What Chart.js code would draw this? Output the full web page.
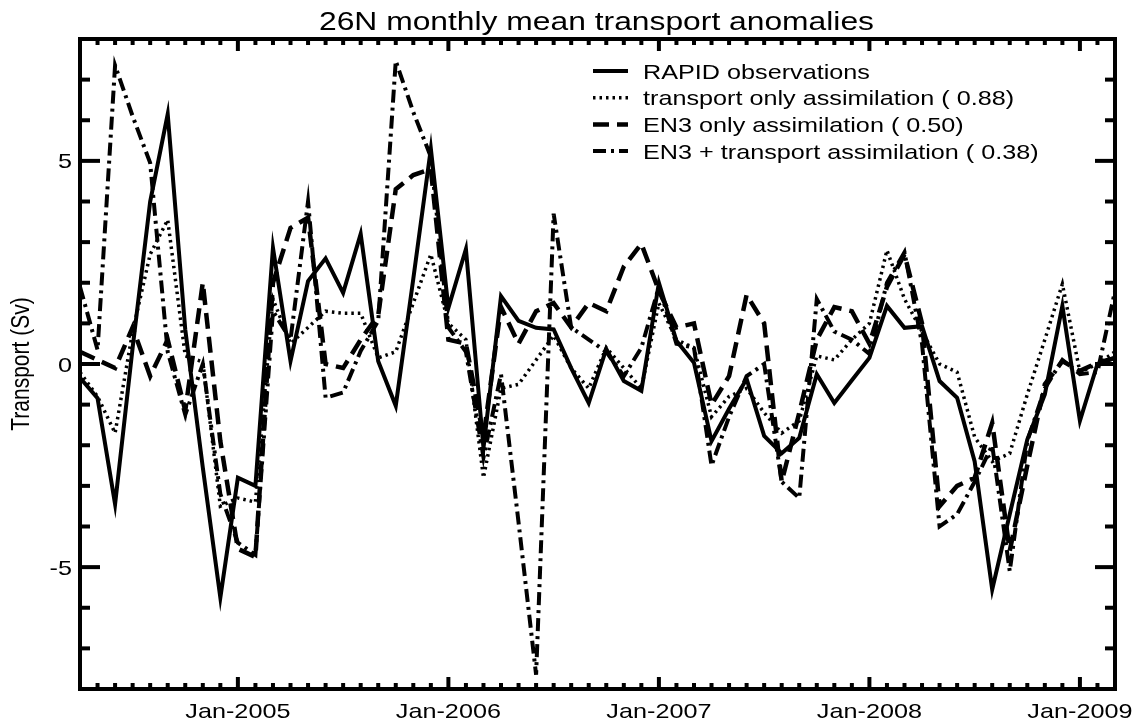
<!DOCTYPE html>
<html>
<head>
<meta charset="utf-8">
<script src="https://cdn.jsdelivr.net/npm/chart.js@4.4.1/dist/chart.umd.min.js"></script>
<style>
  html, body { margin: 0; padding: 0; background: #fff; }
  #wrap { width: 1142px; height: 724px; }
</style>
</head>
<body>
<div id="wrap"><canvas id="chart" width="1142" height="724"></canvas></div>
<script>
// monthly means, Apr-2004 .. Mar-2009
const monthNames = ["Jan", "Feb", "Mar", "Apr", "May", "Jun", "Jul", "Aug", "Sep", "Oct", "Nov", "Dec"];
const months = [];
for (let i = 0; i < 60; i++) {
  const m = (3 + i) % 12;
  months.push(monthNames[m] + "-" + (2004 + Math.floor((3 + i) / 12)));
}

const xTickLabels = ["Jan-2005", "Jan-2006", "Jan-2007", "Jan-2008", "Jan-2009"];
const yTickLabels = [-5, 0, 5];

const rapid = [
  -0.34, -0.84, -3.45, 0.4, 4.0, 6.15, 0.85, -2.55, -5.75, -2.8,
  -3.0, 2.86, 0.07, 2.04, 2.6, 1.75, 3.2, 0.07, -1.03, 2.1,
  5.3, 1.38, 2.83, -2.07, 1.67, 1.06, 0.89, 0.85, -0.1, -0.96,
  0.37, -0.42, -0.66, 2.0, 0.57, 0.03, -1.9, -1.1, -0.37, -1.77,
  -2.2, -1.82, -0.25, -0.96, -0.4, 0.15, 1.43, 0.89, 0.93, -0.42,
  -0.83, -2.4, -5.55, -3.7, -1.86, -0.75, 1.43, -1.4, 0.0, 0.15
];
const transportOnly = [
  -0.2, -0.8, -1.7, 0.8, 2.7, 3.55, 0.2, 0.05, -3.5, -3.3,
  -3.4, 1.6, 0.5, 0.9, 1.3, 1.25, 1.25, 0.15, 0.3, 1.5,
  2.7, 1.0, 0.6, -2.8, -0.6, -0.5, 0.1, 0.7, -0.1, -0.6,
  0.4, -0.1, -0.6, 1.5, 0.6, 0.4, -1.3, -0.8, -0.6, -1.2,
  -1.7, -1.4, 0.2, 0.1, 0.6, 1.0, 2.8, 1.6, 0.8, 0.0,
  -0.2, -1.8, -2.4, -2.2, -0.75, 0.6, 1.97, -0.2, 0.0, 0.3
];
const en3Only = [
  0.3, 0.1, -0.1, 0.9, -0.3, 0.6, -1.15, 2.0, -1.9, -4.55,
  -4.75, 2.0, 3.35, 3.6, 0.0, -0.1, 0.6, 1.2, 4.3, 4.65,
  4.8, 0.6, 0.5, -1.8, 1.4, 0.5, 1.3, 1.5, 0.9, 1.5,
  1.3, 2.4, 2.96, 1.8, 0.9, 1.0, -1.0, -0.3, 1.7, 1.0,
  -2.9, -1.2, 0.6, 1.4, 1.3, 0.5, 1.9, 2.7, 1.0, -3.5,
  -3.0, -2.8, -1.45, -4.6, -2.5, -0.5, 0.07, -0.17, 0.03, 0.15
];
const en3Transport = [
  1.9, 0.35, 7.35, 6.1, 4.95, 0.3, -1.25, 0.0, -3.2, -4.4,
  -4.7, 1.3, 0.6, 4.0, -0.83, -0.7, 0.32, 1.06, 7.46, 6.2,
  5.1, 0.9, 0.3, -2.3, -0.25, -3.9, -7.65, 3.7, 0.9, 0.6,
  0.3, -0.3, 0.4, 1.9, 0.5, 0.4, -2.5, -1.3, -0.3, 0.0,
  -2.9, -3.3, 1.6, 0.8, 0.6, 0.25, 2.0, 2.75, 0.5, -4.0,
  -3.7, -2.9, -2.0, -5.1, -1.9, -0.6, 0.1, -0.25, -0.2, 1.8
];

const FONT = '"Liberation Sans", Arial, Helvetica, sans-serif';
const STRETCH = 1.2; // text in the original is a bit wide

function textWide(ctx, text, x, y, align, size) {
  ctx.save();
  ctx.font = size + "px " + FONT;
  ctx.textAlign = align;
  ctx.textBaseline = "alphabetic";
  ctx.translate(x, y);
  ctx.scale(STRETCH, 1);
  ctx.fillText(text, 0, 0);
  ctx.restore();
}

function seg(ctx, x1, y1, x2, y2) {
  ctx.beginPath();
  ctx.moveTo(x1, y1);
  ctx.lineTo(x2, y2);
  ctx.stroke();
}

// frame, inward ticks, labels, legend, title
const idlAxes = {
  id: "idlAxes",
  afterDraw(chart) {
    const ctx = chart.ctx;
    const a = chart.chartArea;
    const xs = chart.scales.x;
    const ys = chart.scales.y;
    ctx.save();
    ctx.fillStyle = "#000";
    ctx.strokeStyle = "#000";
    ctx.lineCap = "butt";
    ctx.setLineDash([]);

    ctx.lineWidth = 4;
    xs.ticks.forEach((t, i) => {
      const px = xs.getPixelForTick(i);
      const label = months[t.value];
      const major = xTickLabels.includes(label);
      const len = major ? 12 : 6;
      seg(ctx, px, a.bottom, px, a.bottom - len);
      seg(ctx, px, a.top, px, a.top + len);
      if (major) textWide(ctx, label, px, a.bottom + 28.5, "center", 21);
    });
    ys.ticks.forEach((t, i) => {
      const py = ys.getPixelForTick(i);
      const major = t.value % 5 === 0;
      const len = major ? 20 : 10;
      seg(ctx, a.left, py, a.left + len, py);
      seg(ctx, a.right, py, a.right - len, py);
      if (yTickLabels.includes(t.value)) textWide(ctx, String(t.value), a.left - 8, py + 7.5, "right", 21);
    });

    ctx.lineWidth = 4;
    ctx.strokeRect(a.left, a.top, a.right - a.left, a.bottom - a.top);

    // y axis title
    ctx.save();
    ctx.font = "21px " + FONT;
    ctx.textAlign = "center";
    ctx.textBaseline = "alphabetic";
    ctx.translate(28.5, (a.top + a.bottom) / 2);
    ctx.rotate(-Math.PI / 2);
    ctx.scale(1, STRETCH);
    ctx.fillText("Transport (Sv)", 0, 0);
    ctx.restore();

    // title
    textWide(ctx, "26N monthly mean transport anomalies", 596.5, 29.5, "center", 26.5);

    // legend
    chart.data.datasets.forEach((ds, i) => {
      const cy = 71 + i * 26.7;
      ctx.save();
      ctx.lineWidth = ds.borderWidth;
      ctx.setLineDash(ds.borderDash || []);
      seg(ctx, 593, cy, 628, cy);
      ctx.restore();
      textWide(ctx, ds.label, 643, cy + 7.5, "left", 21);
    });
    ctx.restore();
  }
};

const common = { borderColor: "#000", backgroundColor: "#000", fill: false, pointRadius: 0, tension: 0, borderJoinStyle: "miter", borderCapStyle: "butt" };

new Chart(document.getElementById("chart"), {
  type: "line",
  data: {
    labels: months,
    datasets: [
      { ...common, label: "RAPID observations", data: rapid, borderWidth: 4, borderDash: [] },
      { ...common, label: "transport only assimilation ( 0.88)", data: transportOnly, borderWidth: 3.5, borderDash: [2.5, 4] },
      { ...common, label: "EN3 only assimilation ( 0.50)", data: en3Only, borderWidth: 4.5, borderDash: [16, 8] },
      { ...common, label: "EN3 + transport assimilation ( 0.38)", data: en3Transport, borderWidth: 4, borderDash: [13, 5, 3, 5] }
    ]
  },
  options: {
    responsive: false,
    animation: false,
    layout: { padding: { top: 39, right: 27, left: 0, bottom: 0 } },
    plugins: { legend: { display: false }, title: { display: false }, tooltip: { enabled: false } },
    scales: {
      x: {
        type: "category",
        offset: false,
        grid: { display: false, drawTicks: false },
        border: { display: false },
        ticks: { display: false, autoSkip: false },
        afterFit(s) { s.height = 35; }
      },
      y: {
        min: -8,
        max: 8,
        grid: { display: false, drawTicks: false },
        border: { display: false },
        ticks: { display: false, stepSize: 1 },
        afterFit(s) { s.width = 80; }
      }
    }
  },
  plugins: [idlAxes]
});
</script>
</body>
</html>
